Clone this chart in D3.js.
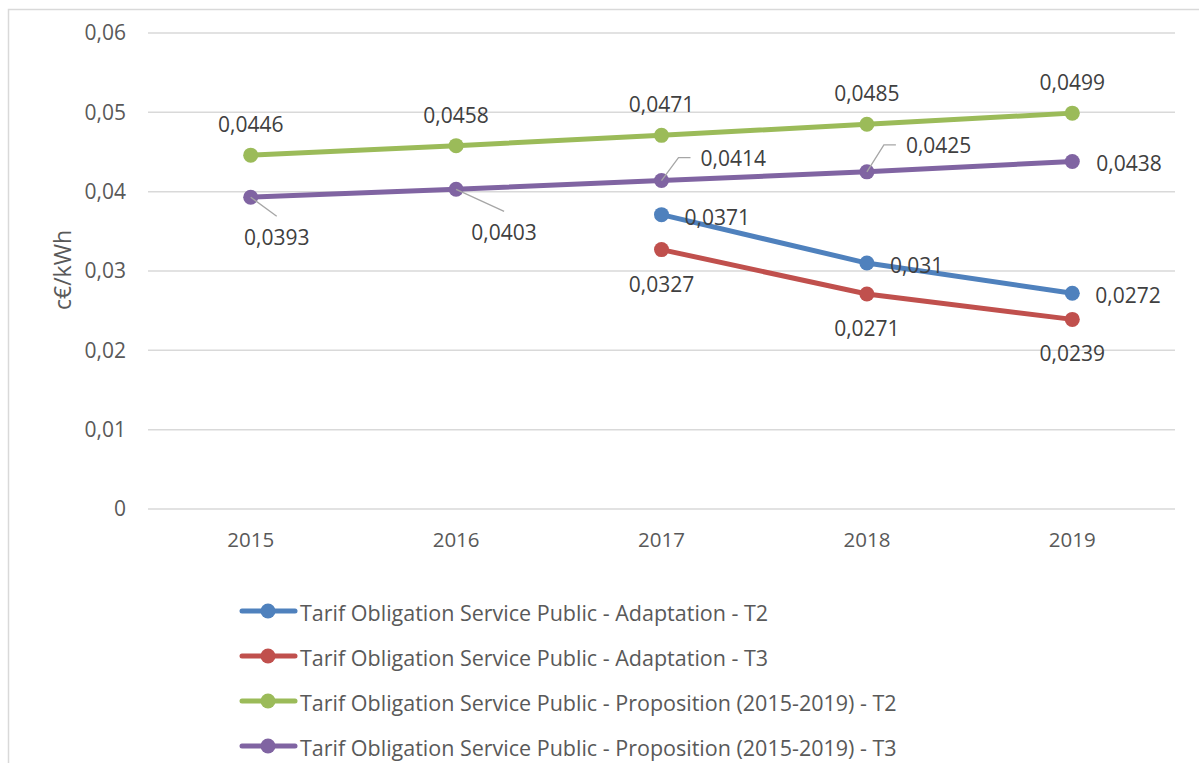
<!DOCTYPE html>
<html><head><meta charset="utf-8">
<script src="https://cdn.jsdelivr.net/npm/d3@7"></script>
<style>
html,body{margin:0;padding:0;background:#fff;}
svg{display:block;font-family:"Open Sans",sans-serif;}
</style></head>
<body>
<svg id="chart" width="1199" height="763"></svg>
<script>
const years = ["2015","2016","2017","2018","2019"];
const yTicks = [0,0.01,0.02,0.03,0.04,0.05,0.06];
const seriesNames = [
  "Tarif Obligation Service Public - Adaptation - T2",
  "Tarif Obligation Service Public - Adaptation - T3",
  "Tarif Obligation Service Public - Proposition (2015-2019) - T2",
  "Tarif Obligation Service Public - Proposition (2015-2019) - T3"
];
const colors = ["#4f81bd","#c0504d","#9bbb59","#8064a2"];
const adaptT2 = [null,null,0.0371,0.031,0.0272];
const adaptT3 = [null,null,0.0327,0.0271,0.0239];
const propT2 = [0.0446,0.0458,0.0471,0.0485,0.0499];
const propT3 = [0.0393,0.0403,0.0414,0.0425,0.0438];
// label placement per series: "right","below","above","leader"
const labelPos = ["right","below","above","leader"];
const yTitle = "c€/kWh";

const allSeries = [adaptT2, adaptT3, propT2, propT3];
const fmt = v => String(v).replace(".", ",");

const svg = d3.select("#chart");
// outer border
svg.append("rect").attr("x",8.5).attr("y",9.5).attr("width",1210).attr("height",780)
  .attr("fill","none").attr("stroke","#d9d9d9").attr("stroke-width",1.5);

const x = d3.scaleBand().domain(years).range([148,1175]);
const y = d3.scaleLinear().domain([0,0.06]).range([509,33]);
const cx = d => x(d) + x.bandwidth()/2;

// gridlines
svg.append("g").selectAll("line").data(yTicks).join("line")
  .attr("x1",148).attr("x2",1175).attr("y1",d=>y(d)).attr("y2",d=>y(d))
  .attr("stroke","#d9d9d9").attr("stroke-width",1.5);

// y axis
const yAxis = svg.append("g").attr("transform","translate(148,0)")
  .call(d3.axisLeft(y).tickValues(yTicks).tickSize(0).tickPadding(22)
    .tickFormat(d => d===0 ? "0" : fmt(d3.format(".2f")(d))));
yAxis.select(".domain").remove();
yAxis.selectAll("text").attr("fill","#595959").style("font-size","21px").style("font-family","Open Sans");

// x axis
const xAxis = svg.append("g").attr("transform","translate(0,509)")
  .call(d3.axisBottom(x).tickSize(0).tickPadding(23));
xAxis.select(".domain").remove();
xAxis.selectAll("text").attr("fill","#595959").style("font-size","20.5px").style("font-family","Open Sans");

// y title
svg.append("text").attr("transform","translate(62,270) rotate(-90)")
  .attr("text-anchor","middle").attr("dominant-baseline","central")
  .attr("fill","#595959").style("font-size","23px").text(yTitle);

const line = d3.line().defined(d=>d.v!==null).x(d=>cx(d.year)).y(d=>y(d.v));

allSeries.forEach((vals,i)=>{
  const pts = years.map((yr,j)=>({year:yr,v:vals[j]}));
  const g = svg.append("g");
  g.append("path").datum(pts).attr("d",line).attr("fill","none")
    .attr("stroke",colors[i]).attr("stroke-width",5).attr("stroke-linecap","round");
  g.selectAll("circle").data(pts.filter(p=>p.v!==null)).join("circle")
    .attr("cx",p=>cx(p.year)).attr("cy",p=>y(p.v)).attr("r",7.5).attr("fill",colors[i]);
});

// labels
const labG = svg.append("g").style("font-size","21px").attr("fill","#404040");
allSeries.forEach((vals,i)=>{
  years.forEach((yr,j)=>{
    const v = vals[j]; if(v===null) return;
    const px = cx(yr), py = y(v);
    const pos = labelPos[i];
    if(pos==="right"){
      labG.append("text").attr("x",px+23).attr("y",py+2).attr("dominant-baseline","central").text(fmt(v));
    } else if(pos==="below"){
      labG.append("text").attr("x",px).attr("y",py+34).attr("text-anchor","middle").attr("dominant-baseline","central").text(fmt(v));
    } else if(pos==="above"){
      labG.append("text").attr("x",px).attr("y",py-31).attr("text-anchor","middle").attr("dominant-baseline","central").text(fmt(v));
    } else {
      if(j<=1){
        const dx = j===0 ? 26 : 48, dy = j===0 ? 19 : 22;
        labG.append("line").attr("x1",px).attr("y1",py).attr("x2",px+dx).attr("y2",py+dy)
          .attr("stroke","#a6a6a6").attr("stroke-width",1.3);
        labG.append("text").attr("x",px+dx).attr("y",py+dy+21).attr("text-anchor","middle").attr("dominant-baseline","central").text(fmt(v));
      } else if(j<=3){
        const ex = px+17, ey = py-23 + (j===3?-4:0);
        labG.append("polyline").attr("points",[[px,py],[ex,ey],[ex+12,ey]].map(p=>p.join(",")).join(" "))
          .attr("fill","none").attr("stroke","#a6a6a6").attr("stroke-width",1.3);
        labG.append("text").attr("x",ex+22).attr("y",ey).attr("dominant-baseline","central").text(fmt(v));
      } else {
        labG.append("text").attr("x",px+24).attr("y",py+1).attr("dominant-baseline","central").text(fmt(v));
      }
    }
  });
});

// legend
const legRows = [611,656,701,746];
const leg = svg.append("g");
seriesNames.forEach((name,i)=>{
  const ly = legRows[i];
  leg.append("line").attr("x1",242).attr("x2",295).attr("y1",ly).attr("y2",ly)
    .attr("stroke",colors[i]).attr("stroke-width",5).attr("stroke-linecap","round");
  leg.append("circle").attr("cx",268).attr("cy",ly).attr("r",7.5).attr("fill",colors[i]);
  leg.append("text").attr("x",300).attr("y",ly+1).attr("dominant-baseline","central")
    .attr("fill","#595959").style("font-size","21.5px").text(name);
});
</script>
</body></html>
